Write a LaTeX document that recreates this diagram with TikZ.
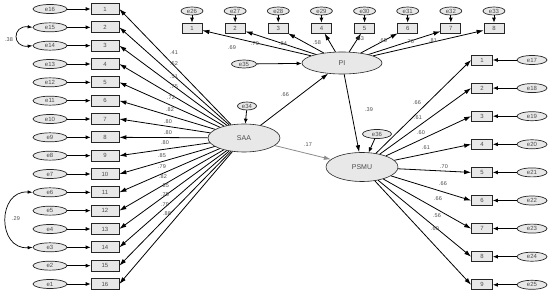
\documentclass[tikz,border=0pt]{standalone}
\usepackage{fontspec}
\setmainfont{Liberation Sans}
\usetikzlibrary{arrows.meta,shapes.geometric}
\begin{document}
\begin{tikzpicture}[x=1pt,y=-1pt,
  txt/.style={font=\fontsize{6}{6}\selectfont, text=black!70},
  box/.style={txt, draw=black!85, fill=black!9, line width=0.7pt, minimum width=28pt, minimum height=11pt, inner sep=0pt},
  boxS/.style={box, minimum width=20pt, minimum height=10pt},
  err/.style={txt, ellipse, draw=black!85, fill=black!9, line width=0.7pt, minimum width=34pt, minimum height=9pt, inner sep=0pt},
  errS/.style={err, minimum width=22pt, minimum height=8pt},
  errR/.style={err, minimum width=30pt},
  lat/.style={ellipse, draw=black!85, fill=black!9, line width=0.6pt, minimum width=72pt, minimum height=28pt, inner sep=0pt, font=\fontsize{7}{7}\selectfont, text=black!70},
  arr/.style={-{Latex[length=7pt,width=4.5pt]}, line width=0.8pt},
  earr/.style={-{Latex[length=5pt,width=4pt]}, line width=0.8pt},
  cov/.style={{Latex[length=5pt,width=3.5pt]}-{Latex[length=5pt,width=3.5pt]}, line width=0.7pt},
  lab/.style={font=\fontsize{5.5}{5.5}\selectfont, text=black!70, inner sep=0pt}]
\path[use as bounding box, fill=white] (0,0) rectangle (550,294);

% latent variables
\node[lat] (SAA) at (244,138) {SAA};
\node[lat, minimum width=80pt, minimum height=22pt] (PI) at (342,63) {PI};
\node[lat, minimum width=72pt, minimum height=29pt] (PSMU) at (362,167) {PSMU};

\node[err, minimum width=19pt, minimum height=8pt] (e34) at (247,106) {e34};
\node[err, minimum width=25pt, minimum height=8pt] (e35) at (244,64) {e35};
\node[err, minimum width=29pt, minimum height=9pt] (e36) at (377,134) {e36};
\draw[earr] (e34) -- (SAA);
\draw[earr] (e35) -- (PI);
\draw[earr] (e36) -- (PSMU);

% left indicators
\foreach \i [evaluate=\i as \y using {9+(\i-1)*18.333}, evaluate=\i as \e using int(17-\i)] in {1,...,16} {
  \node[box] (L\i) at (105,\y) {\i};
  \node[err] (eL\i) at (50,\y) {e\e};
  \draw[earr] (eL\i) -- (L\i);
  \draw[arr] (SAA) -- (L\i.east);
}
\foreach \v/\x/\y in {.41/174/53,.52/174/64,.51/174/77,.75/174/87,.72/171/98,.82/170/110,.80/168/122,.80/168/133,.80/165/143,.85/162/156,.79/162/167,.82/163/177,.85/165/186,.75/165/195,.79/165/205,.88/167/214}
  \node[lab] at (\x,\y) {\v};

% covariances
\draw[cov] (eL2.west) .. controls (12,25) and (12,48) .. (eL3.west);
\node[lab] at (9,40) {.38};
\draw[cov] (eL11.west) .. controls (-3,190) and (-3,250) .. (eL14.west);
\node[lab] at (16,219) {.29};

% top indicators
\foreach \i [evaluate=\i as \x using {192+43.14*(\i-1)}, evaluate=\i as \e using int(25+\i)] in {1,...,8} {
  \node[boxS] (T\i) at (\x,28) {\i};
  \node[errS] (eT\i) at (\x,11) {e\e};
  \draw[earr] (eT\i) -- (T\i);
  \draw[arr] (PI) -- (T\i);
}
\foreach \v/\x/\y in {.69/232/48,.79/255/44,.84/283/44,.58/317/43,.63/360/39,.65/383/41,.76/410/42,.81/433/41}
  \node[lab] at (\x,\y) {\v};

% right indicators
\foreach \i [evaluate=\i as \y using {60+28.1*(\i-1)}, evaluate=\i as \e using int(16+\i)] in {1,...,9} {
  \node[boxS, minimum width=21pt] (R\i) at (482,\y) {\i};
  \node[errR] (eR\i) at (532,\y) {e\e};
  \draw[earr] (eR\i) -- (R\i);
  \draw[arr] (PSMU) -- (R\i.west);
}
\foreach \v/\x/\y in {.66/417/103,.61/418/118,.60/421/133,.61/426/148,.70/444/167,.66/443/184,.66/438/199,.56/437/216,.60/435/229}
  \node[lab] at (\x,\y) {\v};

% structural paths
\draw[arr] (SAA) -- (PI);
\node[lab] at (285,95) {.66};
\draw[arr] (PI) -- (PSMU);
\node[lab] at (369,110) {.39};
\draw[arr, color=black!45] (SAA) -- (PSMU);
\node[lab] at (308,145) {.17};
\end{tikzpicture}
\end{document}
